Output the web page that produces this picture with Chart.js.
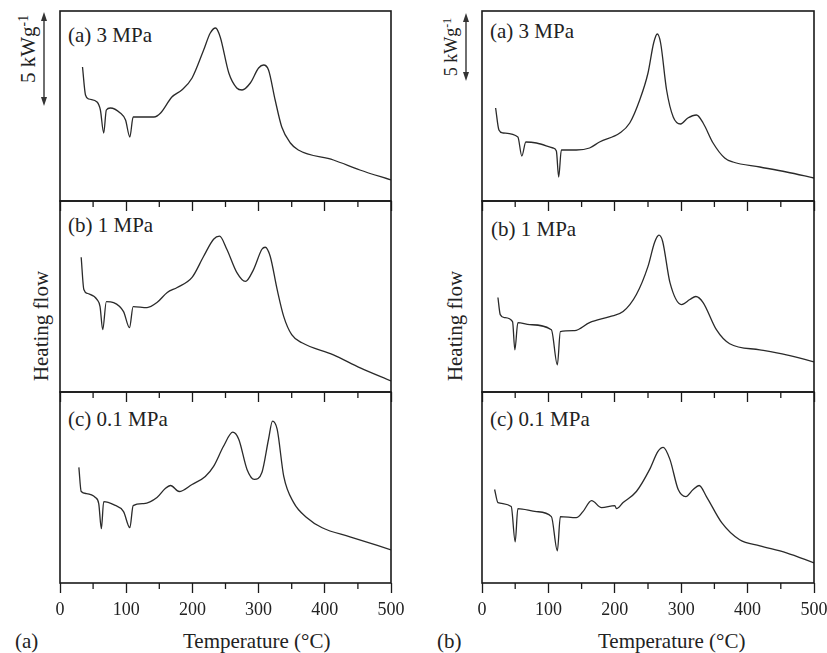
<!DOCTYPE html>
<html>
<head>
<meta charset="utf-8">
<script src="https://cdn.jsdelivr.net/npm/chart.js@4.4.1/dist/chart.umd.min.js"></script>
<style>
  html, body { margin: 0; padding: 0; background: #fff; overflow: hidden; }
  #fig { position: relative; width: 827px; height: 653px; font-family: 'Liberation Serif', 'Times New Roman', serif; color: #222; }
  #fig canvas { position: absolute; }
  .lbl { position: absolute; white-space: nowrap; line-height: 1; }
  .rot { position: absolute; white-space: nowrap; line-height: 1; transform: translate(-50%, -50%) rotate(-90deg); }
  .rot sup { font-size: 0.65em; vertical-align: 0.55em; }
</style>
</head>
<body>
<div id="fig">
  <div class="lbl" style="left:68px;top:25px;font-size:21px">(a) 3 MPa</div>
  <div class="lbl" style="left:68px;top:215px;font-size:21px">(b) 1 MPa</div>
  <div class="lbl" style="left:68px;top:409px;font-size:21px">(c) 0.1 MPa</div>
  <div class="lbl" style="left:490px;top:21px;font-size:21px">(a) 3 MPa</div>
  <div class="lbl" style="left:491px;top:219px;font-size:21px">(b) 1 MPa</div>
  <div class="lbl" style="left:490px;top:409px;font-size:21px">(c) 0.1 MPa</div>

  <div class="rot" style="left:28px;top:49px;font-size:21px">5 kWg<sup>-1</sup></div>
  <div class="rot" style="left:451px;top:47px;font-size:18px">5 kWg<sup>-1</sup></div>
  <svg style="position:absolute;left:0;top:0" width="827" height="120">
    <g stroke="#333" stroke-width="1.4" fill="#333">
      <line x1="44" y1="18" x2="44" y2="100"/>
      <polygon points="44,12 41,21 47,21" stroke="none"/>
      <polygon points="44,106 41,97 47,97" stroke="none"/>
      <line x1="466" y1="19" x2="466" y2="75"/>
      <polygon points="466,13 463,22 469,22" stroke="none"/>
      <polygon points="466,81 463,72 469,72" stroke="none"/>
    </g>
  </svg>

  <div class="rot" style="left:41px;top:326px;font-size:21px">Heating flow</div>
  <div class="rot" style="left:455px;top:326px;font-size:21px">Heating flow</div>

  <div class="lbl" style="left:183px;top:631px;font-size:21px">Temperature (°C)</div>
  <div class="lbl" style="left:598px;top:631px;font-size:21px">Temperature (°C)</div>
  <div class="lbl" style="left:15px;top:631px;font-size:21px">(a)</div>
  <div class="lbl" style="left:437px;top:631px;font-size:21px">(b)</div>
</div>

<script>
// x axis
const tempMin = 0;
const tempMax = 500;
const minorTicks = [50, 150, 250, 350, 450];

// left figure (a): 3 MPa, 1 MPa, 0.1 MPa
const tempLA = [34, 38.5, 43.5, 56, 61, 66, 70, 76, 91, 99, 105.5, 110.5, 125, 142, 152, 169, 184, 199.5, 217, 227, 235, 242, 255, 267, 275, 287.5, 300, 307.5, 315, 325, 335, 348, 360, 413, 453, 500];
const flowLA = [13.4, 10.6, 10.2, 9.9, 9.1, 6.8, 9.1, 9.3, 8.8, 8.1, 6.4, 8.4, 8.4, 8.4, 8.8, 10.4, 11.1, 12.3, 15.1, 16.8, 17.3, 16.4, 12.8, 11.3, 11.1, 11.8, 13.3, 13.6, 13.1, 10.1, 7.4, 5.8, 5.1, 4.1, 3.1, 2.1];

const tempLB = [32, 36, 42, 56, 60.5, 64.5, 70, 81, 96, 105, 110.5, 131.5, 146.5, 162, 177, 199.5, 217, 232, 241, 252, 267, 280, 292.5, 305, 310, 317.5, 328, 338, 350, 365.5, 413, 453.5, 500];
const flowLB = [13.4, 10.2, 9.8, 9.2, 8.5, 6.2, 9.0, 8.9, 8.0, 6.4, 8.5, 8.4, 8.9, 9.9, 10.4, 11.4, 13.5, 15.2, 15.5, 14.2, 11.9, 11.0, 12.2, 14.2, 14.4, 13.5, 10.2, 7.5, 5.7, 4.9, 3.7, 2.4, 1.1];

const tempLC = [28.5, 32, 40, 53.5, 58.5, 62.5, 66, 81, 96, 105.5, 110.5, 126.5, 146.5, 159, 167, 180, 199.5, 219.5, 232, 247, 261, 270, 282.5, 293.5, 305, 315, 321, 328, 338, 353, 373, 396, 438, 500];
const flowLC = [11.5, 9.1, 8.9, 8.5, 7.9, 5.4, 8.1, 7.8, 7.1, 5.5, 7.7, 7.9, 8.5, 9.4, 9.7, 9.1, 9.8, 10.6, 11.6, 13.6, 15.0, 14.3, 11.3, 10.3, 11.0, 14.3, 16.1, 15.3, 10.6, 8.0, 6.5, 5.5, 4.6, 3.3];

// right figure (b): 3 MPa, 1 MPa, 0.1 MPa
const tempRA = [20.5, 25.5, 31.5, 54, 60, 66, 82, 107, 112, 115.5, 119.5, 142, 162, 177, 207.5, 222.5, 237.5, 250, 258.5, 264, 269, 278, 288, 299, 310, 323, 333, 348, 365.5, 378, 418.5, 458.5, 500];
const flowRA = [9.3, 7.1, 6.8, 6.4, 4.5, 5.9, 5.8, 5.3, 5.0, 2.4, 5.1, 5.1, 5.3, 5.9, 6.8, 7.8, 10.1, 12.8, 15.8, 16.7, 15.8, 11.1, 8.4, 7.7, 8.3, 8.6, 7.8, 5.8, 4.3, 3.9, 3.4, 2.9, 2.3];

const tempRB = [24, 27.5, 34, 46, 49.5, 54, 72, 104.5, 113.5, 118, 139.5, 162, 192.5, 212.5, 232.5, 250, 260, 266.5, 272, 283, 300.5, 313, 322, 333, 353, 373, 418.5, 458.5, 500];
const flowRB = [9.4, 7.7, 7.4, 7.0, 4.2, 6.9, 6.7, 6.2, 2.7, 6.0, 6.1, 6.9, 7.5, 8.0, 9.7, 12.5, 14.9, 15.6, 15.0, 10.9, 8.7, 9.2, 9.5, 8.9, 6.2, 4.8, 4.2, 3.7, 3.0];

const tempRC = [19, 24, 44, 50, 54, 82, 104.5, 113.5, 118, 142, 152, 165, 180, 200, 202.5, 212.5, 232.5, 252.5, 265, 273, 283, 295.5, 307, 318, 327, 338, 361, 388, 418.5, 458.5, 500];
const flowRC = [9.3, 8.0, 7.6, 4.1, 7.4, 7.1, 6.6, 3.2, 6.6, 6.5, 7.1, 8.2, 7.5, 7.7, 7.4, 8.0, 9.1, 11.3, 13.1, 13.5, 12.3, 9.3, 8.6, 9.3, 9.7, 8.6, 6.0, 4.3, 3.7, 3.0, 2.0];

// box + short minor ticks, drawn on the library's own x scale
const panelFrame = {
  id: 'panelFrame',
  afterDraw(chart) {
    const ctx = chart.ctx;
    const a = chart.chartArea;
    const x = chart.scales.x;
    ctx.save();
    ctx.strokeStyle = '#1a1a1a';
    ctx.lineWidth = 1.6;
    ctx.strokeRect(a.left, a.top, a.right - a.left, a.bottom - a.top);
    ctx.lineWidth = 1.3;
    minorTicks.forEach(v => {
      const px = x.getPixelForValue(v);
      ctx.beginPath();
      ctx.moveTo(px, a.bottom);
      ctx.lineTo(px, a.bottom + 6);
      ctx.stroke();
    });
    ctx.restore();
  }
};

function makePanel(left, top, w, h, temps, flows, showLabels) {
  const pad = 22;
  const axisH = showLabels ? 40 : 10;
  const canvas = document.createElement('canvas');
  canvas.width = w + 2 * pad;
  canvas.height = h + pad + axisH;
  canvas.style.left = (left - pad) + 'px';
  canvas.style.top = (top - pad) + 'px';
  document.getElementById('fig').appendChild(canvas);

  const points = temps.map((t, i) => ({x: t, y: flows[i]}));

  return new Chart(canvas.getContext('2d'), {
    type: 'line',
    data: {
      datasets: [{
        data: points,
        borderColor: '#2a2a2a',
        borderWidth: 1.3,
        pointRadius: 0,
        fill: false,
        cubicInterpolationMode: 'monotone'
      }]
    },
    options: {
      responsive: false,
      animation: false,
      layout: { padding: { left: pad, right: pad, top: pad, bottom: 0 } },
      plugins: { legend: { display: false }, tooltip: { enabled: false } },
      scales: {
        x: {
          type: 'linear',
          position: 'bottom',
          min: tempMin,
          max: tempMax,
          afterFit: s => { s.height = axisH; },
          border: { display: false },
          grid: {
            drawOnChartArea: false,
            drawTicks: true,
            tickLength: 10,
            tickColor: '#1a1a1a',
            tickWidth: 1.3
          },
          ticks: {
            display: showLabels,
            stepSize: 100,
            padding: 6,
            maxRotation: 0,
            color: '#222',
            font: { family: "'Liberation Serif', serif", size: 18 }
          }
        },
        y: { display: false, min: 0, max: 19 }
      }
    },
    plugins: [panelFrame]
  });
}

makePanel(60, 11, 331, 190, tempLA, flowLA, false);
makePanel(60, 201, 331, 191, tempLB, flowLB, false);
makePanel(60, 392, 331, 191, tempLC, flowLC, true);
makePanel(482, 11, 332, 190, tempRA, flowRA, false);
makePanel(482, 201, 332, 191, tempRB, flowRB, false);
makePanel(482, 392, 332, 191, tempRC, flowRC, true);
</script>
</body>
</html>
